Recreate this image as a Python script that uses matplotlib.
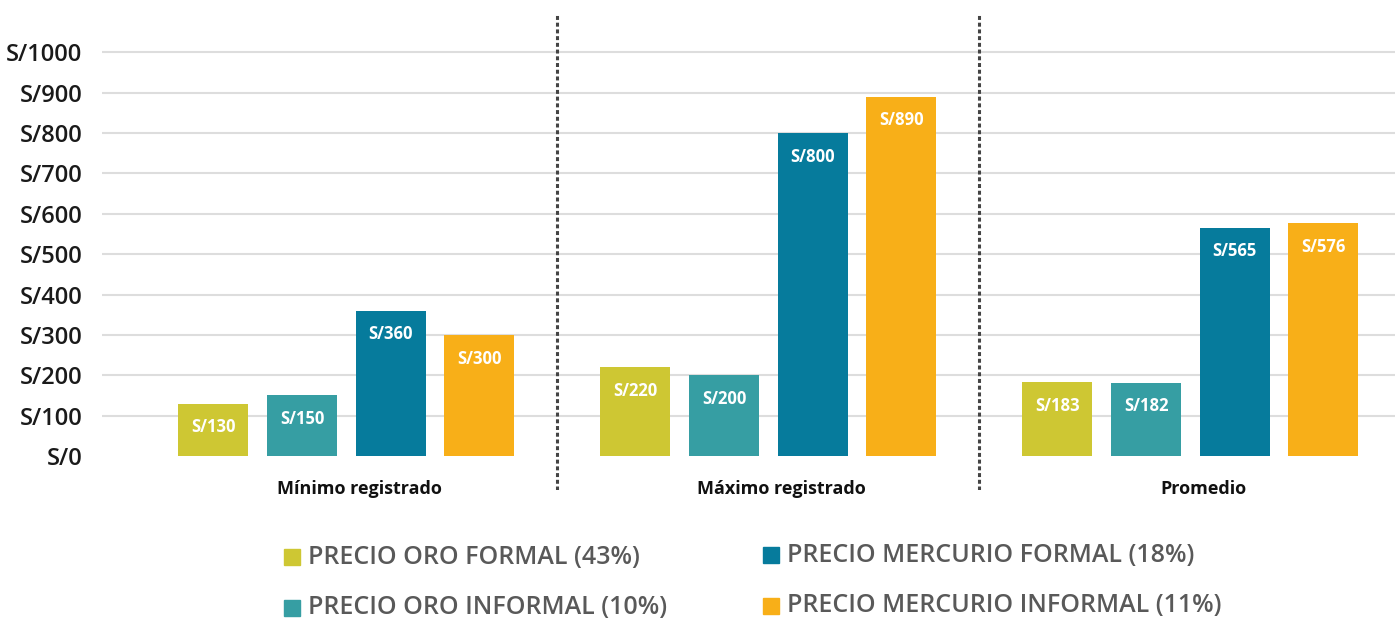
import matplotlib.pyplot as plt
from matplotlib.patches import Rectangle
import numpy as np

plt.rcParams['font.family'] = ['Open Sans', 'DejaVu Sans']

# datos
grupos = ['Mínimo registrado', 'Máximo registrado', 'Promedio']
series = ['PRECIO ORO FORMAL (43%)', 'PRECIO ORO INFORMAL (10%)',
          'PRECIO MERCURIO FORMAL (18%)', 'PRECIO MERCURIO INFORMAL (11%)']
oro_formal = [130, 220, 183]
oro_informal = [150, 200, 182]
merc_formal = [360, 800, 565]
merc_informal = [300, 890, 576]
yticks = list(range(0, 1001, 100))
colores = ['#CEC733', '#369EA3', '#067B9C', '#F8AF18']

valores = [oro_formal, oro_informal, merc_formal, merc_informal]

W, H = 1395, 621
fig = plt.figure(figsize=(W / 100, H / 100), dpi=100)
# ejes en pixeles: x 102..1395, y 15..490 (0 en 456, 1000 en 52)
ax = fig.add_axes([102 / W, 1 - 490 / H, (W - 102) / W, 475 / H])
ax.set_ylim(-84, 1092)
ax.set_xlim(-0.579, 2.485)

x = np.arange(len(grupos))
paso = 0.21
ancho = 0.166
for i, (vals, col) in enumerate(zip(valores, colores)):
    pos = x + (i - 1.5) * paso
    ax.bar(pos, vals, width=ancho, color=col, zorder=3)
    for p, v in zip(pos, vals):
        ax.annotate(f'S/{v}', (p, v), xytext=(0, -17), textcoords='offset points',
                    ha='center', va='center', color='white', fontsize=12,
                    fontweight='bold', zorder=4)

for t in yticks[1:]:
    ax.axhline(t, color='#dddddd', lw=1.5, zorder=1)

for d in [0.5, 1.5]:
    ax.axvline(d, color='#444444', lw=2.2, linestyle=(0, (1.3, 0.9)), zorder=2)

ax.set_yticks(yticks)
ax.set_yticklabels([f'S/{t}' for t in yticks], fontsize=17, fontweight='semibold',
                   color='#1a1a1a')
ax.tick_params(axis='y', length=0, pad=14)
ax.set_xticks(x + 0.03)
ax.set_xticklabels(grupos, fontsize=13, fontweight='bold', color='#111111')
ax.tick_params(axis='x', length=0, pad=-7)
for s in ax.spines.values():
    s.set_visible(False)

# leyenda manual
pos_ley = [(284, 557), (284, 608), (763, 555), (763, 606)]
for (px, py), nombre, col in zip(pos_ley, series, colores):
    fig.add_artist(Rectangle((px / W, 1 - (py + 8) / H), 16 / W, 16 / H,
                             color=col, transform=fig.transFigure))
    fig.text((px + 24) / W, 1 - py / H, nombre, fontsize=18, fontweight='semibold',
             color='#595959', va='center', ha='left')

fig.savefig('out.png', dpi=100)
